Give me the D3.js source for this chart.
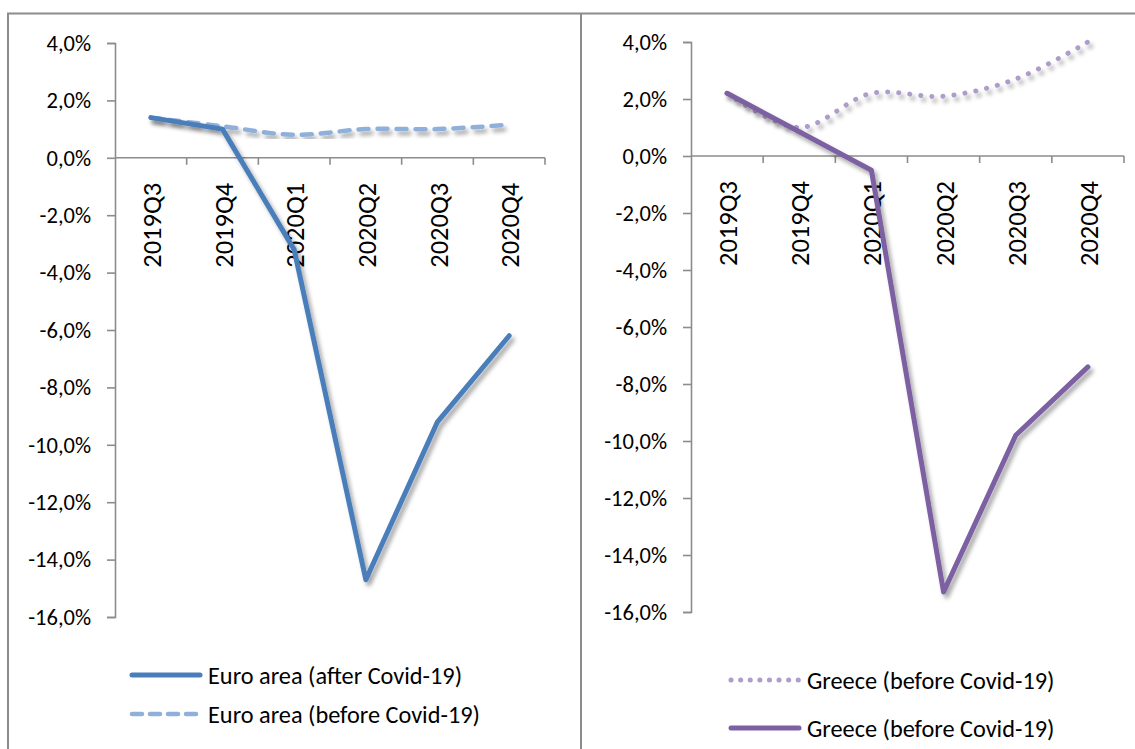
<!DOCTYPE html>
<html>
<head>
<meta charset="utf-8">
<script src="https://cdn.jsdelivr.net/npm/d3@7"></script>
<style>
  html, body { margin: 0; padding: 0; background: #fff; }
  svg { display: block; }
  text { font-family: Carlito, Calibri, Lato, "Open Sans", sans-serif; fill: #000; }
</style>
</head>
<body>
<svg id="chart" width="1135" height="749"></svg>
<script>
// ---- data ----
const categories = ["2019Q3", "2019Q4", "2020Q1", "2020Q2", "2020Q3", "2020Q4"];
const euroAfter = [1.4, 1.0, -3.2, -14.7, -9.2, -6.2];
const euroBefore = [1.4, 1.1, 0.8, 1.0, 1.0, 1.15];
const greeceBefore = [2.2, 1.0, 2.2, 2.1, 2.7, 4.0];
const greeceAfter = [2.2, 0.85, -0.5, -15.3, -9.8, -7.4];
const yTicks = [4, 2, 0, -2, -4, -6, -8, -10, -12, -14, -16];
const euroLegend = ["Euro area (after Covid-19)", "Euro area (before Covid-19)"];
const greeceLegend = ["Greece (before Covid-19)", "Greece (before Covid-19)"];

const locale = d3.formatLocale({decimal: ",", thousands: ".", grouping: [3], currency: ["", "%"], minus: "-"});
const fmt = v => locale.format(".1f")(v) + "%";

const svg = d3.select("#chart");
const defs = svg.append("defs");
const f = defs.append("filter").attr("id", "shadow").attr("x", "-20%").attr("y", "-20%").attr("width", "140%").attr("height", "140%");
f.append("feDropShadow").attr("dx", 3).attr("dy", 4).attr("stdDeviation", 2.2)
  .attr("flood-color", "#000").attr("flood-opacity", 0.35);

// panel borders
const borderColor = "#8c8c8c";
svg.append("line").attr("x1", 7).attr("x2", 1135).attr("y1", 13.5).attr("y2", 13.5)
  .attr("stroke", borderColor).attr("stroke-width", 2);
svg.append("line").attr("x1", 8).attr("x2", 8).attr("y1", 13).attr("y2", 749)
  .attr("stroke", borderColor).attr("stroke-width", 2);
svg.append("line").attr("x1", 581).attr("x2", 581).attr("y1", 13).attr("y2", 749)
  .attr("stroke", borderColor).attr("stroke-width", 2);

function panel(cfg) {
  const g = svg.append("g");
  const x = d3.scaleBand().domain(categories).range([cfg.x0, cfg.x1]);
  const y = d3.scaleLinear().domain([-16, 4]).range([cfg.yBottom, cfg.yTop]);
  const axisColor = "#8c8c8c";

  // y axis
  const ya = g.append("g").attr("transform", `translate(${cfg.x0},0)`)
    .call(d3.axisLeft(y).tickValues(yTicks).tickFormat(fmt).tickSize(8).tickPadding(16));
  ya.select(".domain").attr("stroke", axisColor).attr("stroke-width", 1.6);
  ya.selectAll(".tick line").attr("stroke", axisColor).attr("stroke-width", 1.6);
  ya.selectAll(".tick text").attr("font-size", 22.5).attr("fill", "#000")
    .style("font-family", "Carlito, Calibri, Lato, 'Open Sans', sans-serif");

  // x axis at zero: ticks at category boundaries
  const y0 = y(0);
  g.append("line").attr("x1", cfg.x0).attr("x2", cfg.x1).attr("y1", y0).attr("y2", y0)
    .attr("stroke", axisColor).attr("stroke-width", 1.6);
  const bounds = categories.map(c => x(c)).concat([x(categories[categories.length - 1]) + x.bandwidth()]);
  g.selectAll(".xt").data(bounds.slice(1)).enter().append("line")
    .attr("x1", d => d).attr("x2", d => d).attr("y1", y0).attr("y2", y0 + 7)
    .attr("stroke", axisColor).attr("stroke-width", 1.6);
  g.selectAll(".xl").data(categories).enter().append("text")
    .attr("transform", d => `translate(${x(d) + x.bandwidth() / 2 + 10},${y0 + 25}) rotate(-90)`)
    .attr("text-anchor", "end").attr("font-size", 26.5).text(d => d);

  const cx = (d, i) => x(categories[i]) + x.bandwidth() / 2;
  cfg.series.forEach(s => {
    const line = d3.line().x(cx).y(d => y(d)).curve(s.smooth ? d3.curveCatmullRom.alpha(0.5) : d3.curveLinear);
    g.append("path").datum(s.values).attr("d", line)
      .attr("fill", "none").attr("stroke", s.color).attr("stroke-width", s.width)
      .attr("stroke-dasharray", s.dash || null).attr("stroke-linecap", "round")
      .attr("stroke-linejoin", "round").attr("filter", "url(#shadow)");
  });

  // legend
  cfg.legend.forEach((l, i) => {
    const s = cfg.series[l.series];
    const ly = cfg.legendY[i];
    g.append("line").attr("x1", cfg.legendX).attr("x2", cfg.legendX + 68).attr("y1", ly).attr("y2", ly)
      .attr("stroke", s.color).attr("stroke-width", s.width).attr("stroke-dasharray", s.legendDash || null)
      .attr("stroke-linecap", "round");
    g.append("text").attr("x", cfg.legendX + 76).attr("y", ly).attr("dy", "0.35em")
      .attr("font-size", 24.3).text(l.label);
  });
}

panel({
  x0: 115, x1: 545, yTop: 43, yBottom: 617,
  series: [
    {values: euroBefore, color: "#8fb0da", width: 4.5, dash: "10 9", legendDash: "10 8", smooth: true},
    {values: euroAfter, color: "#4a7ebb", width: 5}
  ],
  legend: [{series: 1, label: euroLegend[0]}, {series: 0, label: euroLegend[1]}],
  legendX: 132, legendY: [675, 714]
});

panel({
  x0: 691, x1: 1124, yTop: 42, yBottom: 612,
  series: [
    {values: greeceBefore, color: "#ae9cc9", width: 5, dash: "0.1 11", legendDash: "0.1 9.5", smooth: true},
    {values: greeceAfter, color: "#7b60a2", width: 5}
  ],
  legend: [{series: 0, label: greeceLegend[0]}, {series: 1, label: greeceLegend[1]}],
  legendX: 731, legendY: [680, 728]
});
</script>
</body>
</html>
